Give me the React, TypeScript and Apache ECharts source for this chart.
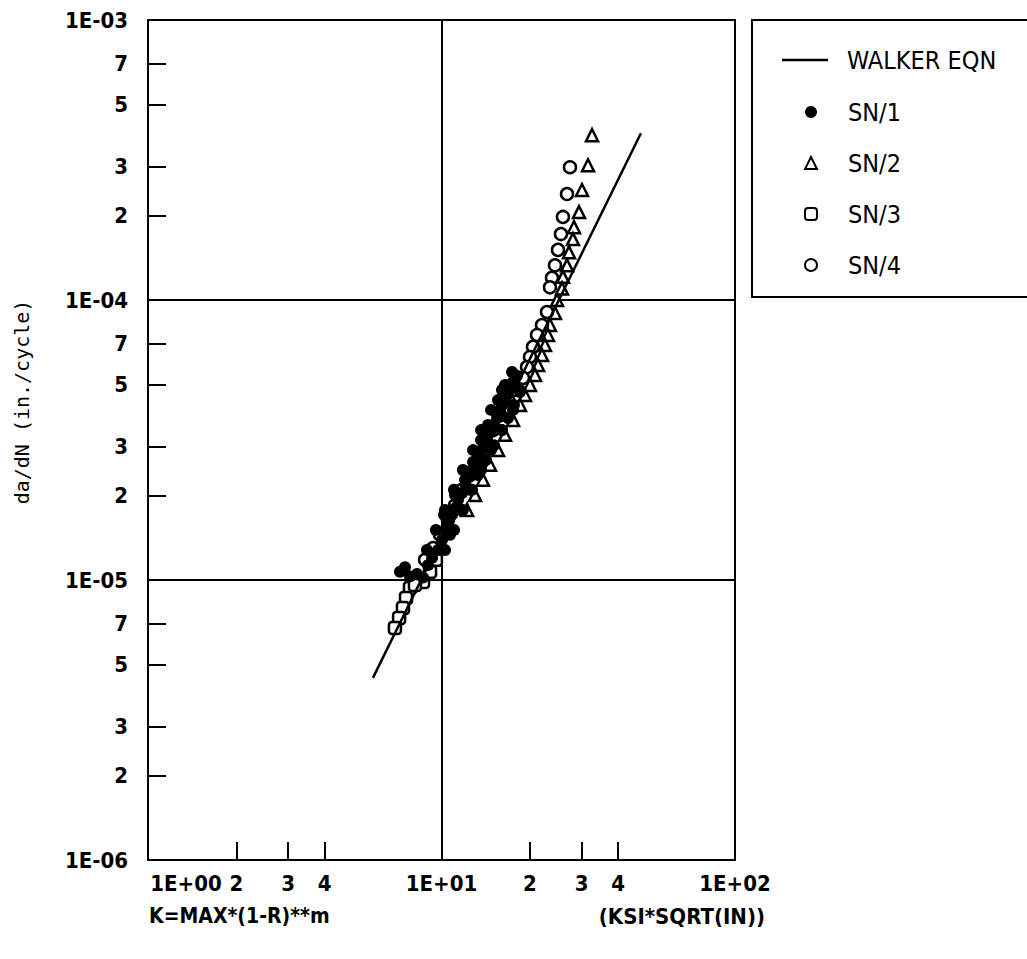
import React, { useEffect, useRef } from "react";
import * as echarts from "echarts";

// Axis tick / label positions (raw values)
const xTickValues = [1, 2, 3, 4, 10, 20, 30, 40, 100];
const yTickValues = [
  1e-6, 2e-6, 3e-6, 5e-6, 7e-6,
  1e-5, 2e-5, 3e-5, 5e-5, 7e-5,
  1e-4, 2e-4, 3e-4, 5e-4, 7e-4, 1e-3,
];

const lineLegend = ["WALKER EQN"];
const pointLegend = ["SN/1", "SN/2", "SN/3", "SN/4"];

// Walker equation line: [K, da/dN]
const walkerEqn = [
  [5.84, 4.47e-6],
  [47.8, 3.94e-4],
];

// SN/1 (filled circles)
const sn1 = [
  [7.22, 1.07e-5], [7.51, 1.11e-5], [7.81, 1.03e-5], [8.25, 1.05e-5], [8.65, 1.02e-5],
  [8.99, 1.13e-5], [9.29, 1.2e-5], [9.73, 1.28e-5], [10.04, 1.39e-5], [10.28, 1.51e-5],
  [10.52, 1.61e-5], [10.86, 1.71e-5], [11.12, 1.8e-5], [11.38, 1.93e-5], [11.74, 2.04e-5],
  [12.12, 2.16e-5], [12.31, 2.32e-5], [12.71, 2.47e-5], [13.11, 2.64e-5], [13.53, 2.8e-5],
  [13.85, 2.96e-5], [14.29, 3.16e-5], [14.63, 3.37e-5], [15.1, 3.58e-5], [15.46, 3.79e-5],
  [15.82, 4.05e-5], [16.32, 4.32e-5], [16.72, 4.58e-5], [17.12, 4.85e-5], [17.53, 5.1e-5],
  [18.08, 5.36e-5], [10.69, 1.45e-5], [11.56, 1.78e-5], [12.51, 2.1e-5], [13.32, 2.37e-5],
  [14.18, 2.68e-5], [15.1, 3.03e-5], [16.07, 3.43e-5], [16.85, 3.79e-5], [17.66, 4.22e-5],
  [18.51, 4.69e-5], [10.2, 1.71e-5], [11.12, 2.01e-5], [12.03, 2.28e-5], [12.81, 2.64e-5],
  [13.64, 3.16e-5], [14.41, 3.58e-5], [15.58, 4.39e-5], [16.46, 4.97e-5], [17.39, 5.53e-5],
  [10.28, 1.28e-5], [11.03, 1.51e-5], [11.83, 1.78e-5], [12.71, 2.1e-5], [13.64, 2.47e-5],
  [14.75, 2.91e-5], [16.07, 3.43e-5], [17.53, 4.05e-5], [18.51, 4.77e-5],
  [8.92, 1.28e-5], [9.57, 1.51e-5], [10.28, 1.78e-5], [11.03, 2.1e-5], [11.83, 2.47e-5],
  [12.81, 2.91e-5], [13.64, 3.43e-5], [14.75, 4.05e-5], [16.07, 4.77e-5],
];

// SN/2 (open triangles)
const sn2 = [
  [32.57, 3.88e-4], [31.56, 3.03e-4], [30.11, 2.47e-4], [29.41, 2.06e-4], [28.27, 1.82e-4],
  [28.05, 1.65e-4], [27.19, 1.48e-4], [26.77, 1.33e-4], [25.93, 1.21e-4], [25.73, 1.1e-4],
  [24.75, 1.0e-4], [24.36, 8.99e-5], [23.42, 8.14e-5], [23.06, 7.5e-5], [22.52, 6.91e-5],
  [22.0, 6.36e-5], [21.33, 5.86e-5], [20.83, 5.4e-5], [20.02, 4.97e-5], [19.25, 4.58e-5],
  [18.51, 4.22e-5], [17.53, 3.73e-5], [16.46, 3.3e-5], [15.58, 2.91e-5], [14.63, 2.58e-5],
  [13.85, 2.28e-5], [13.01, 2.01e-5], [12.22, 1.78e-5],
];

// SN/3 (open squares)
const sn3 = [
  [7.81, 9.36e-6], [7.57, 8.62e-6], [7.39, 7.94e-6], [7.17, 7.32e-6], [6.94, 6.74e-6],
  [8.65, 9.84e-6], [9.14, 1.07e-5], [9.57, 1.18e-5], [8.12, 9.6e-6],
];

// SN/4 (open circles)
const sn4 = [
  [27.4, 2.98e-4], [26.77, 2.39e-4], [25.93, 1.98e-4], [25.53, 1.72e-4], [24.94, 1.51e-4],
  [24.36, 1.33e-4], [23.79, 1.2e-4], [23.42, 1.11e-4], [22.88, 9.06e-5], [22.0, 8.14e-5],
  [21.16, 7.5e-5], [20.5, 6.8e-5], [20.02, 6.26e-5], [19.56, 5.76e-5], [18.95, 5.27e-5],
  [17.8, 4.77e-5], [16.85, 4.39e-5], [15.82, 3.88e-5], [14.98, 3.43e-5], [14.18, 3.03e-5],
  [13.32, 2.68e-5], [12.51, 2.37e-5], [11.74, 2.1e-5], [11.12, 1.85e-5], [10.52, 1.64e-5],
  [9.88, 1.45e-5], [9.36, 1.3e-5], [8.79, 1.18e-5],
];

const FONT = "'DejaVu Sans Condensed', 'Liberation Sans Narrow', 'DejaVu Sans', sans-serif";

function decadeLabel(v: number): string {
  const e = Math.floor(Math.log10(v) + 1e-9);
  const m = Math.round(v / Math.pow(10, e));
  if (m === 1) {
    const a = Math.abs(e);
    return "1E" + (e < 0 ? "-" : "+") + (a < 10 ? "0" + a : String(a));
  }
  return String(m);
}

export default function App() {
  const ref = useRef<HTMLDivElement>(null);

  useEffect(() => {
    if (!ref.current) return;
    const chart = echarts.init(ref.current, null, { renderer: "svg" });
    const black = "#000";
    const labelFont = {
      fontFamily: FONT,
      fontWeight: "bold" as const,
      fontSize: 22,
      color: black,
    };
    const legendText = { fontFamily: FONT, fontSize: 25, color: black, lineHeight: 26 };
    const hollow = (symbol: string, data: number[][], name: string) => ({
      name,
      type: "scatter",
      data,
      symbol,
      symbolSize: 12,
      z: 2,
      itemStyle: { color: "#fff", borderColor: black, borderWidth: 2.5, opacity: 1 },
    });

    chart.setOption({
      animation: false,
      backgroundColor: "#fff",
      grid: {
        left: 148,
        top: 20,
        width: 587,
        height: 840,
        show: true,
        borderColor: black,
        borderWidth: 2,
        backgroundColor: "transparent",
      },
      legend: [
        {
          data: lineLegend,
          left: 782,
          top: 47,
          orient: "vertical",
          align: "left",
          padding: 0,
          icon: "rect",
          itemWidth: 46,
          itemHeight: 2.5,
          selectedMode: false,
          textStyle: { ...legendText, padding: [0, 0, 0, 14] },
        },
        {
          data: pointLegend,
          left: 804,
          top: 99,
          orient: "vertical",
          align: "left",
          padding: 0,
          itemWidth: 12,
          itemHeight: 12,
          itemGap: 25,
          selectedMode: false,
          textStyle: { ...legendText, padding: [0, 0, 0, 26] },
        },
      ],
      xAxis: [
        {
          type: "log",
          logBase: 10,
          min: 1,
          max: 100,
          axisLine: { show: true, lineStyle: { color: black, width: 2 } },
          axisTick: { show: false },
          axisLabel: { show: false },
          minorTick: { show: false },
          splitLine: { show: true, lineStyle: { color: black, width: 2 } },
        },
        {
          type: "log",
          logBase: 10,
          min: 1,
          max: 100,
          gridIndex: 0,
          position: "bottom",
          axisLine: { show: false },
          axisTick: {
            show: true,
            inside: true,
            length: 18,
            customValues: xTickValues,
            lineStyle: { color: black, width: 2 },
          },
          axisLabel: {
            customValues: xTickValues,
            margin: 12,
            ...labelFont,
            formatter: (v: number) => {
              const s = decadeLabel(v);
              return Math.abs(v - 1) < 1e-6 ? "{first|" + s + "}" : s;
            },
            rich: {
              first: { ...labelFont, padding: [0, 0, 0, 76] },
            },
          },
          splitLine: { show: false },
        },
      ],
      yAxis: [
        {
          type: "log",
          logBase: 10,
          min: 1e-6,
          max: 1e-3,
          axisLine: { show: true, lineStyle: { color: black, width: 2 } },
          axisTick: { show: false },
          axisLabel: { show: false },
          minorTick: { show: false },
          splitLine: { show: true, lineStyle: { color: black, width: 2 } },
        },
        {
          type: "log",
          logBase: 10,
          min: 1e-6,
          max: 1e-3,
          gridIndex: 0,
          position: "left",
          axisLine: { show: false },
          axisTick: {
            show: true,
            inside: true,
            length: 18,
            customValues: yTickValues,
            lineStyle: { color: black, width: 2 },
          },
          axisLabel: {
            customValues: yTickValues,
            margin: 20,
            ...labelFont,
            formatter: (v: number) => decadeLabel(v),
          },
          splitLine: { show: false },
        },
      ],
      graphic: [
        {
          type: "rect",
          shape: { x: 752, y: 20, width: 320, height: 277 },
          style: { fill: "none", stroke: black, lineWidth: 2 },
          z: 0,
        },
        {
          type: "text",
          x: 22,
          y: 402,
          rotation: Math.PI / 2,
          style: {
            text: "da/dN (in./cycle)",
            fontFamily: "'DejaVu Sans Mono', monospace",
            fontSize: 20,
            fill: black,
            align: "center",
            verticalAlign: "middle",
          },
        },
        {
          type: "text",
          x: 149,
          y: 916,
          style: {
            text: "K=MAX*(1-R)**m",
            fontFamily: FONT,
            fontWeight: "bold",
            fontSize: 21,
            fill: black,
            align: "left",
            verticalAlign: "middle",
          },
        },
        {
          type: "text",
          x: 765,
          y: 916,
          style: {
            text: "(KSI*SQRT(IN))",
            fontFamily: FONT,
            fontWeight: "bold",
            fontSize: 22,
            fill: black,
            align: "right",
            verticalAlign: "middle",
          },
        },
      ],
      series: [
        {
          name: "WALKER EQN",
          type: "line",
          data: walkerEqn,
          symbol: "none",
          z: 4,
          lineStyle: { color: black, width: 2.5 },
          itemStyle: { color: black },
        },
        {
          name: "SN/1",
          type: "scatter",
          data: sn1,
          symbol: "circle",
          symbolSize: 12,
          z: 3,
          itemStyle: { color: black, opacity: 1 },
        },
        hollow("triangle", sn2, "SN/2"),
        hollow("roundRect", sn3, "SN/3"),
        hollow("circle", sn4, "SN/4"),
      ],
    });

    return () => chart.dispose();
  }, []);

  return (
    <div
      ref={ref}
      style={{ position: "fixed", left: 0, top: 0, width: 1027, height: 959, background: "#fff" }}
    />
  );
}
